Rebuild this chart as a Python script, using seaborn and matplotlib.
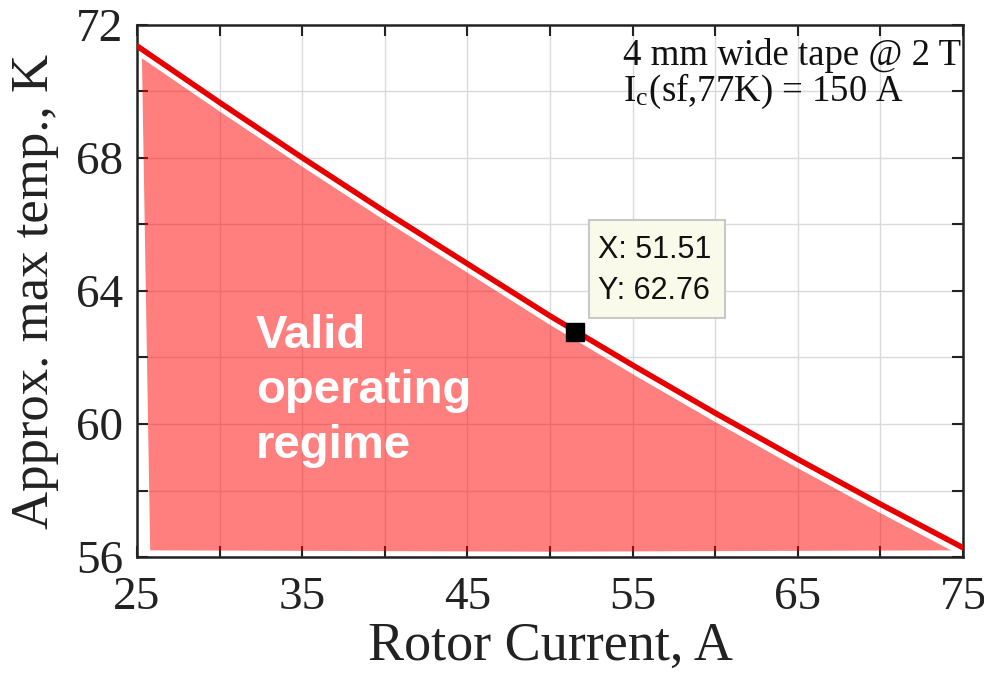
import numpy as np
import matplotlib
matplotlib.use("Agg")
import matplotlib.pyplot as plt
import seaborn as sns
from matplotlib.patches import Rectangle
from matplotlib.ticker import FixedLocator, FuncFormatter

# Rotor current (A) vs approximate maximum operating temperature (K)
current = [25, 30, 35, 40, 45, 50, 55, 60, 65, 70, 75]
temp = [71.37, 69.67, 68.01, 66.39, 64.82, 63.25, 61.77, 60.33, 58.94, 57.59, 56.28]

# Highlighted data tip
tip_x = 51.51
tip_y = 62.76

x_ticks = [25, 30, 35, 40, 45, 50, 55, 60, 65, 70, 75]
x_labeled = [25, 35, 45, 55, 65, 75]
y_ticks = [56, 58, 60, 62, 64, 66, 68, 70, 72]
y_labeled = [56, 60, 64, 68, 72]

sns.set_theme(style="ticks")
plt.rcParams["font.family"] = ["Liberation Serif", "DejaVu Serif"]
plt.rcParams["mathtext.fontset"] = "stix"

fig = plt.figure(figsize=(9.84, 6.75), dpi=100)
ax = fig.add_axes([0.1392, 0.1748, 0.8395, 0.7882])

# valid operating region under the limit curve
floor = 56.2
fx = np.linspace(25.3, 75, 300)
ftop = np.interp(fx, current, temp) - 0.27
ftop = np.maximum(ftop, floor)
poly_x = np.concatenate([fx, [74.0, 50.0, 25.8]])
poly_y = np.concatenate([ftop, [floor, floor - 0.04, floor]])
ax.fill(poly_x, poly_y, color=(1.0, 0.0, 0.0), alpha=0.5, lw=0, zorder=1)

sns.lineplot(x=current, y=temp, ax=ax, color="#e60000", linewidth=4.0,
             zorder=3, legend=False)
ax.plot([tip_x], [tip_y], marker="s", markersize=13, color="black",
        markeredgecolor="black", zorder=4)

ax.set_xlim(25, 75)
ax.set_ylim(56, 72)
ax.xaxis.set_major_locator(FixedLocator(x_ticks))
ax.yaxis.set_major_locator(FixedLocator(y_ticks))
ax.xaxis.set_major_formatter(FuncFormatter(lambda v, p: f"{v:g}" if round(v) in x_labeled else ""))
ax.yaxis.set_major_formatter(FuncFormatter(lambda v, p: f"{v:g}" if round(v) in y_labeled else ""))
ax.tick_params(direction="in", length=8, width=1.5, top=True, right=True,
               labelsize=34, colors="#222222", pad=14)
ax.tick_params(axis="y", pad=10)
ax.grid(True, color="#dadada", linewidth=1.0)
ax.set_axisbelow(True)
for s in ax.spines.values():
    s.set_color("#222222")
    s.set_linewidth(1.8)

ax.set_xlabel("Rotor Current, A", fontsize=39, color="#222222", labelpad=2)
ax.set_ylabel("Approx. max temp., K", fontsize=38, color="#222222", labelpad=12)

# region label
ax.text(32.2, 61.0, "Valid\noperating\nregime", ha="left", va="center",
        fontsize=34, fontweight="bold", color="white",
        family=["Liberation Sans", "DejaVu Sans"], linespacing=1.33, zorder=5)

# data tip box
ax.add_patch(Rectangle((52.36, 63.19), 8.23, 2.95, facecolor="#fafaea",
                       edgecolor="#c8c8c8", linewidth=1.5, zorder=6))
ax.text(52.9, 64.62, f"X: {tip_x:.2f}\nY: {tip_y:.2f}", ha="left", va="center",
        fontsize=22, color="#111111", family=["Liberation Sans", "DejaVu Sans"],
        linespacing=1.45, zorder=7)

# tape parameters
ax.text(0.588, 0.925, "4 mm wide tape @ 2 T", transform=ax.transAxes,
        ha="left", va="baseline", fontsize=26.5, color="#111111", zorder=7)
ax.text(0.588, 0.858, r"I$_\mathregular{c}$(sf,77K) = 150 A", transform=ax.transAxes,
        ha="left", va="baseline", fontsize=26.5, color="#111111", zorder=7)

fig.savefig("out.png", dpi=100)
